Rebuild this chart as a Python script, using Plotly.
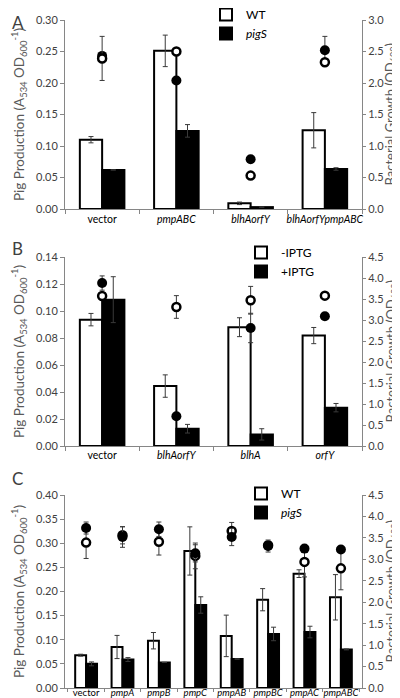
import plotly.graph_objects as go

# ---------------- Panel A data ----------------
A_categories = ["vector", "pmpABC", "blhAorfY", "blhAorfYpmpABC"]
A_ticktext = ["vector", "<i>pmpABC</i>", "<i>blhAorfY</i>", "<i>blhAorfYpmpABC</i>"]
A_wt = [0.110, 0.251, 0.009, 0.125]
A_wt_err = [0.005, 0.025, 0.002, 0.028]
A_pigs = [0.062, 0.124, 0.003, 0.0635]
A_pigs_err = [0.0, 0.010, 0.0, 0.002]
A_growth_wt = [2.39, 2.50, 0.53, 2.33]
A_growth_wt_err = [0.35, 0.0, 0.0, 0.0]
A_growth_pigs = [2.43, 2.04, 0.79, 2.52]
A_growth_pigs_err = [0.0, 0.0, 0.0, 0.22]

# ---------------- Panel B data ----------------
B_categories = ["vector", "blhAorfY", "blhA", "orfY"]
B_ticktext = ["vector", "<i>blhAorfY</i>", "<i>blhA</i>", "<i>orfY</i>"]
B_minus = [0.0936, 0.0444, 0.088, 0.0818]
B_minus_err = [0.0046, 0.0083, 0.007, 0.006]
B_plus = [0.1084, 0.0128, 0.0086, 0.0284]
B_plus_err = [0.017, 0.0032, 0.0042, 0.0031]
B_growth_minus = [3.57, 3.31, 3.47, 3.58]
B_growth_minus_err = [0.0, 0.27, 0.33, 0.0]
B_growth_plus = [3.88, 0.71, 2.81, 3.09]
B_growth_plus_err = [0.17, 0.0, 0.35, 0.0]

# ---------------- Panel C data ----------------
C_categories = ["vector", "pmpA", "pmpB", "pmpC", "pmpAB", "pmpBC", "pmpAC", "pmpABC"]
C_ticktext = ["vector", "<i>pmpA</i>", "<i>pmpB</i>", "<i>pmpC</i>", "<i>pmpAB</i>",
              "<i>pmpBC</i>", "<i>pmpAC</i>", "<i>pmpABC</i>"]
C_wt = [0.068, 0.085, 0.098, 0.284, 0.108, 0.183, 0.237, 0.188]
C_wt_err = [0.002, 0.024, 0.017, 0.050, 0.043, 0.023, 0.008, 0.047]
C_pigs = [0.050, 0.059, 0.053, 0.172, 0.060, 0.112, 0.116, 0.080]
C_pigs_err = [0.004, 0.004, 0.0, 0.017, 0.0, 0.014, 0.012, 0.001]
C_growth_wt = [3.39, 3.56, 3.41, 3.08, 3.66, 3.33, 2.94, 2.79]
C_growth_wt_err = [0.37, 0.20, 0.31, 0.30, 0.20, 0.0, 0.35, 0.50]
C_growth_pigs = [3.73, 3.52, 3.70, 3.14, 3.52, 3.31, 3.25, 3.23]
C_growth_pigs_err = [0.14, 0.24, 0.17, 0.20, 0.20, 0.14, 0.0, 0.0]

FONT = "Lato"
AXC = "#868686"
TXT = "#404040"

fig = go.Figure()


def err(v):
    return dict(type="data", array=v, visible=True, color="#3a3a3a", thickness=1, width=2.5)


def add_panel(xa, ya, ya2, legend, cats, open_vals, open_err, fill_vals, fill_err,
              g_open, g_open_err, g_fill, g_fill_err, names, filled_on_top):
    fig.add_trace(go.Bar(x=cats, y=open_vals, name=names[0], xaxis=xa, yaxis=ya,
                         marker=dict(color="white", line=dict(color="black", width=2)),
                         error_y=err(open_err), legend=legend, offsetgroup="1"))
    fig.add_trace(go.Bar(x=cats, y=fill_vals, name=names[1], xaxis=xa, yaxis=ya,
                         marker=dict(color="black", line=dict(color="black", width=2)),
                         error_y=err(fill_err), legend=legend, offsetgroup="2"))
    open_tr = go.Scatter(x=cats, y=g_open, mode="markers", xaxis=xa, yaxis=ya2, showlegend=False,
                         marker=dict(symbol="circle", size=8, color="white",
                                     line=dict(color="black", width=2.5)),
                         error_y=err(g_open_err))
    fill_tr = go.Scatter(x=cats, y=g_fill, mode="markers", xaxis=xa, yaxis=ya2, showlegend=False,
                         marker=dict(symbol="circle", size=10, color="black",
                                     line=dict(color="black", width=0)),
                         error_y=err(g_fill_err))
    if filled_on_top:
        fig.add_trace(open_tr)
        fig.add_trace(fill_tr)
    else:
        fig.add_trace(fill_tr)
        fig.add_trace(open_tr)


add_panel("x", "y", "y2", "legend", A_categories, A_wt, A_wt_err, A_pigs, A_pigs_err,
          A_growth_wt, A_growth_wt_err, A_growth_pigs, A_growth_pigs_err,
          ["WT", "<i>pigS</i>"], False)
add_panel("x2", "y3", "y4", "legend2", B_categories, B_minus, B_minus_err, B_plus, B_plus_err,
          B_growth_minus, B_growth_minus_err, B_growth_plus, B_growth_plus_err,
          ["-IPTG", "+IPTG"], True)
add_panel("x3", "y5", "y6", "legend3", C_categories, C_wt, C_wt_err, C_pigs, C_pigs_err,
          C_growth_wt, C_growth_wt_err, C_growth_pigs, C_growth_pigs_err,
          ["WT", "<i>pigS</i>"], True)

H, T, B = 698, 12, 17
PH = H - T - B


def py(px):
    return (H - B - px) / PH


def pxx(px):
    return (px - 57) / 297


def dom(top_px, bot_px):
    return [py(bot_px), py(top_px)]


def xax(anchor, cats, ticktext, size, standoff, ticklen):
    return dict(anchor=anchor, domain=[0, 1], type="category", categoryorder="array",
                categoryarray=cats, tickvals=cats, ticktext=ticktext, tickangle=0,
                showline=True, linecolor=AXC, linewidth=1, ticks="outside",
                tickson="boundaries", ticklen=ticklen, tickcolor=AXC,
                ticklabelstandoff=standoff,
                tickfont=dict(family=FONT, size=size, color="black"),
                showgrid=False, zeroline=False, fixedrange=True, automargin=False)


LTITLE = "Pig Production (A<sub>534</sub> OD<sub>600</sub><sup>-1</sup>)"
RTITLE = "Bacterial Growth (OD<sub>600</sub>)"


def yl(domain, anchor, rng, dtick, fmt):
    return dict(domain=domain, anchor=anchor, range=rng, dtick=dtick, tickformat=fmt,
                showline=True, linecolor=AXC, linewidth=1, ticks="outside", ticklen=4,
                tickcolor=AXC, showgrid=False, zeroline=False, automargin=True,
                tickfont=dict(family=FONT, size=11, color=TXT),
                title=dict(text=LTITLE, font=dict(family=FONT, size=13.5, color="#595959"),
                           standoff=8))


def yr(overlay, anchor, rng, dtick):
    return dict(overlaying=overlay, anchor=anchor, side="right", range=rng, dtick=dtick,
                tickformat=".1f", showline=True, linecolor=AXC, linewidth=1,
                ticks="outside", ticklen=3, tickcolor=AXC, showgrid=False, zeroline=False,
                automargin=False,
                tickfont=dict(family=FONT, size=11, color=TXT))


A_top, A_bot = 12, 201
B_top, B_bot = 249, 438
C_top, C_bot = 487, 680


def legend_at(ypx, xpx):
    return dict(x=pxx(xpx), y=py(ypx), xanchor="left", yanchor="top",
                bgcolor="rgba(0,0,0,0)", font=dict(family=FONT, size=12, color="black"),
                itemwidth=30, tracegroupgap=1, traceorder="normal")


fig.update_layout(
    width=400, height=698,
    margin=dict(l=57, r=46, t=T, b=B, autoexpand=False),
    paper_bgcolor="white", plot_bgcolor="white",
    barmode="group", bargap=0.4, bargroupgap=0,
    xaxis=xax("y", A_categories, A_ticktext, 10.5, 0, 4),
    xaxis2=xax("y3", B_categories, B_ticktext, 10.5, -1, 4),
    xaxis3=xax("y5", C_categories, C_ticktext, 9.5, -4, 3),
    yaxis=yl(dom(A_top, A_bot), "x", [0, 0.30], 0.05, ".2f"),
    yaxis2=yr("y", "x", [0, 3.0], 0.5),
    yaxis3=yl(dom(B_top, B_bot), "x2", [0, 0.14], 0.02, ".2f"),
    yaxis4=yr("y3", "x2", [0, 4.5], 0.5),
    yaxis5=yl(dom(C_top, C_bot), "x3", [0, 0.40], 0.05, ".2f"),
    yaxis6=yr("y5", "x3", [0, 4.5], 0.5),
    legend=legend_at(-8, 198),
    legend2=legend_at(230, 233),
    legend3=legend_at(471, 233),
    showlegend=True,
)

# right-axis titles (rotated text, written as annotations)
for top, bot in [(A_top, A_bot), (B_top, B_bot), (C_top, C_bot)]:
    fig.add_annotation(text=RTITLE, xref="paper", yref="paper",
                       x=pxx(383), y=py((top + bot) / 2), xanchor="center", yanchor="middle",
                       textangle=-90, showarrow=False,
                       font=dict(family=FONT, size=13, color="#595959"))

for letter, ypx in [("A", 2), ("B", 228), ("C", 458)]:
    fig.add_annotation(text=letter, xref="paper", yref="paper",
                       x=pxx(2), y=py(ypx), xanchor="left", yanchor="top",
                       showarrow=False, font=dict(family=FONT, size=17, color="#404040"))

fig.write_html("out.html")
